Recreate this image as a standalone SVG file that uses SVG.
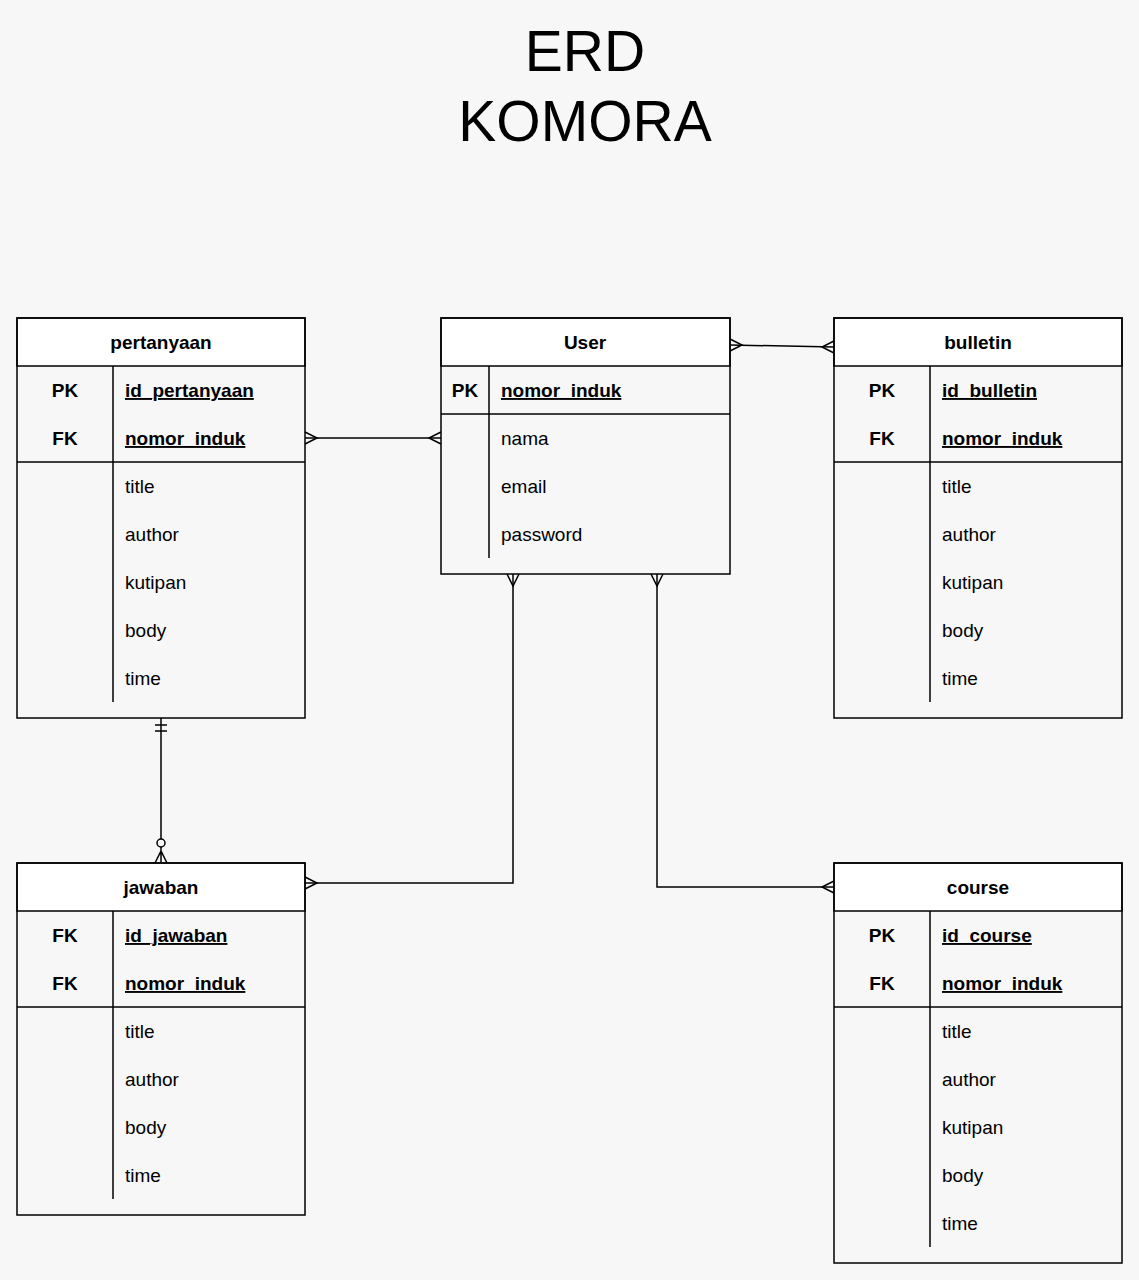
<svg xmlns="http://www.w3.org/2000/svg" width="1139" height="1280" viewBox="0 0 1139 1280">
<style>
text{font-family:"Liberation Sans",Arial,sans-serif;font-size:19px;fill:#000}
.t{font-size:57px;text-anchor:middle}
.h{font-weight:bold;text-anchor:middle}
.k{font-weight:bold;text-anchor:middle}
.u{font-weight:bold;text-decoration:underline}
.box{fill:none;stroke:#000;stroke-width:1.5}
.hd{fill:#fff;stroke:#000;stroke-width:1.5}
.ln{stroke:#000;stroke-width:1.5;fill:none}
.c{stroke:#000;stroke-width:1.5;fill:none}
</style>
<rect width="1139" height="1280" fill="#f7f7f7"/>
<g id="title">
<text class="t" x="585" y="71">ERD</text>
<text class="t" x="585" y="141">KOMORA</text>
</g>
<g id="connectors">
<!-- pertanyaan - User -->
<path class="c" d="M305,438 L441,438"/>
<path class="c" d="M305,432 L317,438 L305,444 M441,432 L429,438 L441,444"/>
<!-- User - bulletin -->
<path class="c" d="M730,345 L834,347"/>
<path class="c" d="M730,339 L742,345 L730,351 M834,341 L822,347 L834,353"/>
<!-- User - jawaban -->
<path class="c" d="M513,574 L513,883 L305,883"/>
<path class="c" d="M507,574 L513,586 L519,574 M305,877 L317,883 L305,889"/>
<!-- User - course -->
<path class="c" d="M657,574 L657,887 L834,887"/>
<path class="c" d="M651,574 L657,586 L663,574 M834,881 L822,887 L834,893"/>
<!-- pertanyaan - jawaban -->
<path class="c" d="M161,718 L161,839"/>
<path class="c" d="M155,725 L167,725 M155,731 L167,731"/>
<circle class="c" cx="161" cy="843" r="4"/>
<path class="c" d="M161,847 L161,863 M155,863 L161,851 L167,863"/>
</g>
<g id="pertanyaan">
<rect class="hd" x="17" y="318" width="288" height="48"/>
<rect class="box" x="17" y="318" width="288" height="400"/>
<line class="ln" x1="17" y1="462" x2="305" y2="462"/>
<line class="ln" x1="113" y1="366" x2="113" y2="702"/>
<text class="h" x="161" y="349">pertanyaan</text>
<text class="k" x="65" y="397">PK</text>
<text class="u" x="125" y="397">id_pertanyaan</text>
<text class="k" x="65" y="445">FK</text>
<text class="u" x="125" y="445">nomor_induk</text>
<text x="125" y="493">title</text>
<text x="125" y="541">author</text>
<text x="125" y="589">kutipan</text>
<text x="125" y="637">body</text>
<text x="125" y="685">time</text>
</g>
<g id="user">
<rect class="hd" x="441" y="318" width="289" height="48"/>
<rect class="box" x="441" y="318" width="289" height="256"/>
<line class="ln" x1="441" y1="414" x2="730" y2="414"/>
<line class="ln" x1="489" y1="366" x2="489" y2="558"/>
<text class="h" x="585" y="349">User</text>
<text class="k" x="465" y="397">PK</text>
<text class="u" x="501" y="397">nomor_induk</text>
<text x="501" y="445">nama</text>
<text x="501" y="493">email</text>
<text x="501" y="541">password</text>
</g>
<g id="bulletin">
<rect class="hd" x="834" y="318" width="288" height="48"/>
<rect class="box" x="834" y="318" width="288" height="400"/>
<line class="ln" x1="834" y1="462" x2="1122" y2="462"/>
<line class="ln" x1="930" y1="366" x2="930" y2="702"/>
<text class="h" x="978" y="349">bulletin</text>
<text class="k" x="882" y="397">PK</text>
<text class="u" x="942" y="397">id_bulletin</text>
<text class="k" x="882" y="445">FK</text>
<text class="u" x="942" y="445">nomor_induk</text>
<text x="942" y="493">title</text>
<text x="942" y="541">author</text>
<text x="942" y="589">kutipan</text>
<text x="942" y="637">body</text>
<text x="942" y="685">time</text>
</g>
<g id="jawaban">
<rect class="hd" x="17" y="863" width="288" height="48"/>
<rect class="box" x="17" y="863" width="288" height="352"/>
<line class="ln" x1="17" y1="1007" x2="305" y2="1007"/>
<line class="ln" x1="113" y1="911" x2="113" y2="1199"/>
<text class="h" x="161" y="894">jawaban</text>
<text class="k" x="65" y="942">FK</text>
<text class="u" x="125" y="942">id_jawaban</text>
<text class="k" x="65" y="990">FK</text>
<text class="u" x="125" y="990">nomor_induk</text>
<text x="125" y="1038">title</text>
<text x="125" y="1086">author</text>
<text x="125" y="1134">body</text>
<text x="125" y="1182">time</text>
</g>
<g id="course">
<rect class="hd" x="834" y="863" width="288" height="48"/>
<rect class="box" x="834" y="863" width="288" height="400"/>
<line class="ln" x1="834" y1="1007" x2="1122" y2="1007"/>
<line class="ln" x1="930" y1="911" x2="930" y2="1247"/>
<text class="h" x="978" y="894">course</text>
<text class="k" x="882" y="942">PK</text>
<text class="u" x="942" y="942">id_course</text>
<text class="k" x="882" y="990">FK</text>
<text class="u" x="942" y="990">nomor_induk</text>
<text x="942" y="1038">title</text>
<text x="942" y="1086">author</text>
<text x="942" y="1134">kutipan</text>
<text x="942" y="1182">body</text>
<text x="942" y="1230">time</text>
</g>
</svg>
